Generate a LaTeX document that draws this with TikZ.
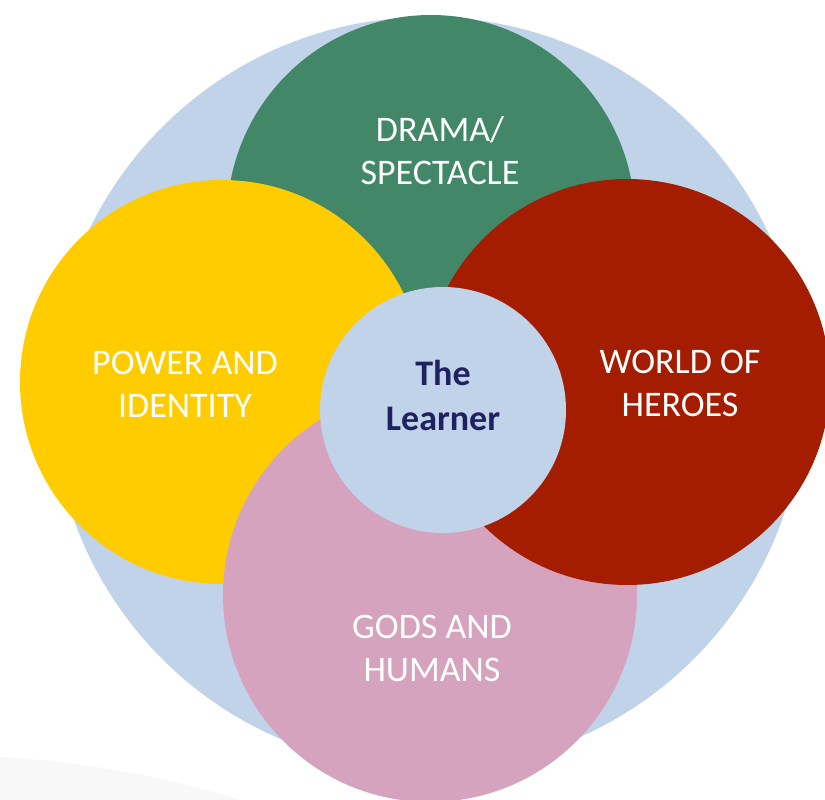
\documentclass[tikz,border=0pt]{standalone}
\usepackage{fontspec}
\setmainfont{Carlito}
\usepackage{tikz}

\definecolor{ringblue}{HTML}{C0D3E8}
\definecolor{dramagreen}{HTML}{428767}
\definecolor{poweryellow}{HTML}{FFCC00}
\definecolor{heroesred}{HTML}{A51D00}
\definecolor{godspink}{HTML}{D5A3BE}
\definecolor{learnernavy}{HTML}{1F2160}
\definecolor{swooshgrey}{HTML}{F8F8F8}

\begin{document}
\begin{tikzpicture}[x=1pt,y=-1pt]

\useasboundingbox (0,0) rectangle (825,800);

% faint sweep in the lower left corner
\fill[swooshgrey] (0,757) .. controls (90,762) and (180,780) .. (240,800) -- (0,800) -- cycle;

\begin{scope}[every node/.style={circle,inner sep=0pt}]
	%Outer ring
	\node[fill=ringblue,minimum size=752pt] (ring) at (428,393) {};

	%Themes, back to front
	\node[fill=dramagreen,minimum size=408pt] (drama) at (431,219) {};
	\node[fill=poweryellow,minimum size=404pt] (power) at (222,382) {};
	\node[fill=godspink,minimum size=414pt] (gods) at (430,595) {};
	\node[fill=heroesred,minimum size=406pt] (heroes) at (627,382) {};

	%Centre
	\node[fill=ringblue,minimum size=246pt] (learner) at (443,410) {};
\end{scope}

\begin{scope}[every node/.style={align=center,text=white,font=\fontsize{36}{43}\selectfont}]
	\node (drama-text) at (440,151) {DRAMA/\\SPECTACLE};
	\node (power-text) at (185,384) {POWER AND\\IDENTITY};
	\node (heroes-text) at (680,383) {WORLD OF\\HEROES};
	\node (gods-text) at (432,648) {GODS AND\\HUMANS};
	\node[text=learnernavy,font=\bfseries\fontsize{36}{45}\selectfont] (learner-text) at (443,395) {The\\Learner};
\end{scope}

\end{tikzpicture}
\end{document}
